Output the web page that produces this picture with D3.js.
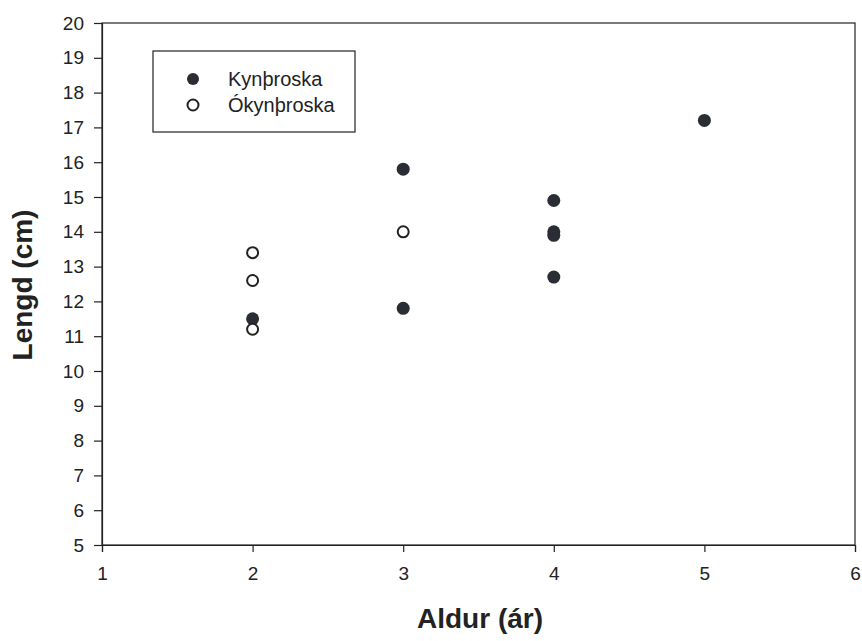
<!DOCTYPE html>
<html>
<head>
<meta charset="utf-8">
<script src="https://cdn.jsdelivr.net/npm/d3@7"></script>
<style>
  html, body { margin: 0; padding: 0; background: #fff; }
  svg { display: block; font-family: 'Liberation Sans', Arial, sans-serif; }
</style>
</head>
<body>
<svg id="chart"></svg>
<script>
// Age (years) and length (cm) for mature / immature fish
const matureAge = [2, 3, 3, 4, 4, 4, 4, 5];
const matureLength = [11.5, 15.8, 11.8, 14.9, 14.0, 13.9, 12.7, 17.2];
const immatureAge = [2, 2, 2, 3];
const immatureLength = [13.4, 12.6, 11.2, 14.0];
const seriesNames = ['Kynþroska', 'Ókynþroska'];
const xTicks = [1, 2, 3, 4, 5, 6];
const yTicks = [5, 6, 7, 8, 9, 10, 11, 12, 13, 14, 15, 16, 17, 18, 19, 20];

const width = 862;
const height = 641;
const margin = { top: 23, right: 7, bottom: 96, left: 102 };
const ink = '#222';

const svg = d3.select('#chart').attr('width', width).attr('height', height);

const x = d3.scaleLinear().domain([1, 6]).range([margin.left, width - margin.right]);
const y = d3.scaleLinear().domain([5, 20]).range([height - margin.bottom, margin.top]);

// frame (top and right edges)
svg.append('rect')
  .attr('x', margin.left)
  .attr('y', margin.top)
  .attr('width', width - margin.left - margin.right)
  .attr('height', height - margin.top - margin.bottom)
  .attr('fill', 'none')
  .attr('stroke', ink)
  .attr('stroke-width', 1.2);

const xAxis = svg.append('g')
  .attr('transform', `translate(0,${height - margin.bottom})`)
  .call(d3.axisBottom(x).tickValues(xTicks).tickFormat(d3.format('d')).tickSizeOuter(0).tickSize(7).tickPadding(15));

const yAxis = svg.append('g')
  .attr('transform', `translate(${margin.left},0)`)
  .call(d3.axisLeft(y).tickValues(yTicks).tickFormat(d3.format('d')).tickSizeOuter(0).tickSize(8).tickPadding(10));

[xAxis, yAxis].forEach((g) => {
  g.attr('font-size', null).attr('font-family', null);
  g.select('.domain').attr('stroke', ink).attr('stroke-width', 1.2);
  g.selectAll('.tick line').attr('stroke', ink).attr('stroke-width', 1.2);
  g.selectAll('.tick text')
    .attr('fill', ink)
    .style('font-size', '19px');
});

// axis titles
svg.append('text')
  .attr('x', 480)
  .attr('y', 628)
  .attr('text-anchor', 'middle')
  .attr('fill', ink)
  .style('font-size', '28px')
  .style('font-weight', 'bold')
  .text('Aldur (ár)');

svg.append('text')
  .attr('transform', 'translate(32,285) rotate(-90)')
  .attr('text-anchor', 'middle')
  .attr('fill', ink)
  .style('font-size', '28px')
  .style('font-weight', 'bold')
  .text('Lengd (cm)');

// points
const mature = matureAge.map((a, i) => ({ age: a, len: matureLength[i] }));
const immature = immatureAge.map((a, i) => ({ age: a, len: immatureLength[i] }));

svg.append('g')
  .selectAll('circle')
  .data(mature)
  .join('circle')
  .attr('cx', (d) => x(d.age))
  .attr('cy', (d) => y(d.len))
  .attr('r', 6.5)
  .attr('fill', '#2a2d33');

svg.append('g')
  .selectAll('circle')
  .data(immature)
  .join('circle')
  .attr('cx', (d) => x(d.age))
  .attr('cy', (d) => y(d.len))
  .attr('r', 5.5)
  .attr('fill', '#fff')
  .attr('stroke', ink)
  .attr('stroke-width', 2);

// legend
const legend = svg.append('g').attr('transform', 'translate(153,51)');
legend.append('rect')
  .attr('width', 202)
  .attr('height', 81)
  .attr('fill', '#fff')
  .attr('stroke', ink)
  .attr('stroke-width', 1.2);

const items = legend.selectAll('g.item')
  .data(seriesNames)
  .join('g')
  .attr('class', 'item')
  .attr('transform', (d, i) => `translate(0,${28 + i * 26})`);

items.append('circle')
  .attr('cx', 40)
  .attr('r', (d, i) => (i === 0 ? 6 : 5.5))
  .attr('fill', (d, i) => (i === 0 ? '#2a2d33' : '#fff'))
  .attr('stroke', (d, i) => (i === 0 ? 'none' : ink))
  .attr('stroke-width', 2);

items.append('text')
  .attr('x', 75)
  .attr('dy', '0.35em')
  .attr('fill', ink)
  .style('font-size', '20px')
  .text((d) => d);
</script>
</body>
</html>
